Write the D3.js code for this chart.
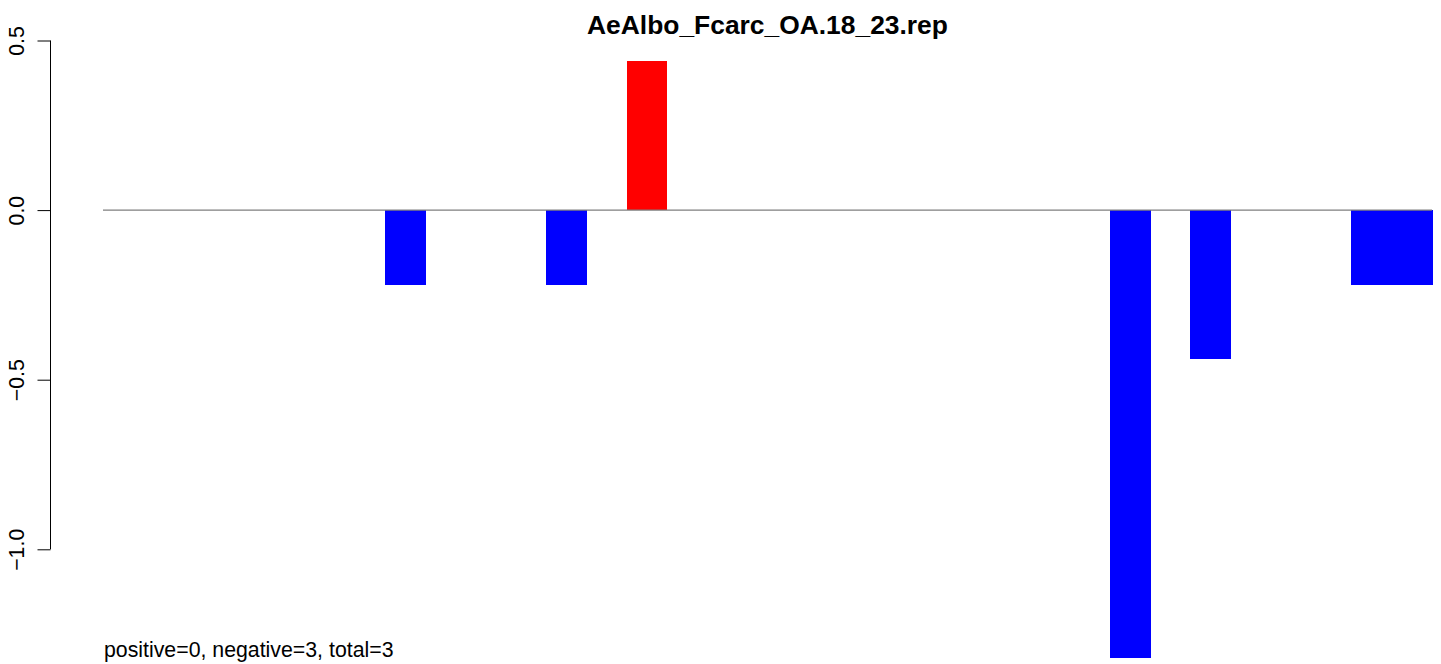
<!DOCTYPE html>
<html>
<head>
<meta charset="utf-8">
<script src="https://cdn.jsdelivr.net/npm/d3@7"></script>
<style>
html, body { margin: 0; padding: 0; background: #fff; }
svg { display: block; font-family: "Liberation Sans", Arial, Helvetica, sans-serif; }
</style>
</head>
<body>
<svg id="chart" width="1441" height="664"></svg>
<script>
const title = "AeAlbo_Fcarc_OA.18_23.rep";
const footnote = "positive=0, negative=3, total=3";
const categories = ["1","2","3","4","5","6","7","8","9","10","11","12","13","14","15","16","17","18","19","20","21","22","23","24","25","26","27","28","29","30","31","32","33"];
const values = [0,0,0,0,0,0,0,-0.22,0,0,0,-0.22,0,0.44,0,0,0,0,0,0,0,0,0,0,0,-1.32,0,-0.44,0,0,0,-0.22,-0.22];
const yTicks = [-1.0, -0.5, 0.0, 0.5];
const yTickLabels = ["\u22121.0", "\u22120.5", "0.0", "0.5"];

const svg = d3.select("#chart");
const x = d3.scaleBand().domain(categories).range([103, 1432]).padding(0);
const y = d3.scaleLinear().domain([-1, 0.5]).range([549.3, 40.5]);

// bars
svg.append("g").attr("shape-rendering", "crispEdges").selectAll("rect")
  .data(categories.map((c, i) => ({c, v: values[i]})))
  .join("rect")
  .attr("x", d => x(d.c))
  .attr("width", x.bandwidth() + 0.6)
  .attr("y", d => Math.min(y(d.v), y(0)))
  .attr("height", d => Math.abs(y(d.v) - y(0)))
  .attr("fill", d => d.v > 0 ? "#ff0000" : "#0000ff");

// zero line
svg.append("line")
  .attr("x1", x.range()[0]).attr("x2", x.range()[1])
  .attr("y1", y(0)).attr("y2", y(0))
  .attr("stroke", "#7f7f7f").attr("stroke-width", 1.2);

// y axis
const axis = d3.axisLeft(y).tickValues(yTicks).tickSize(13)
  .tickFormat((d, i) => yTickLabels[i]);
const ag = svg.append("g").attr("transform", "translate(50.5,0)").call(axis);
ag.select(".domain").attr("d", `M0,${y(0.5)}V${y(-1)}`).attr("stroke", "#000");
ag.selectAll(".tick line").attr("stroke", "#000");
ag.selectAll(".tick text")
  .attr("font-size", "21.3px")
  .attr("fill", "#000")
  .attr("text-anchor", "middle")
  .attr("x", null).attr("dy", null)
  .attr("transform", "translate(-27,0) rotate(-90)");

// title
svg.append("text")
  .attr("x", (x.range()[0] + x.range()[1]) / 2)
  .attr("y", 34)
  .attr("text-anchor", "middle")
  .attr("font-weight", "bold")
  .attr("font-size", "26.4px")
  .text(title);

// footnote
svg.append("text")
  .attr("x", 104)
  .attr("y", 657)
  .attr("font-size", "21.3px")
  .text(footnote);
</script>
</body>
</html>
